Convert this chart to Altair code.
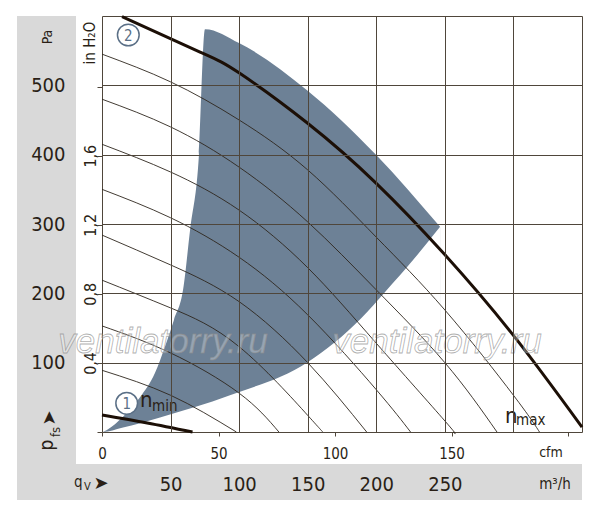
import altair as alt
import pandas as pd

# ---------------- data ----------------
Q_MAX = 350          # m3/h at right edge
PA_MAX = 600         # Pa at top edge
M3H_PER_CFM = 1.69901
PA_PER_INH2O = 249.089

# n_max curve (m3/h, Pa)
max_q = [14.6, 71.5, 99.9, 149.5, 199.8, 249.4, 299.7, 350]
max_pa = [599, 548, 518, 446, 359, 257, 140, 7]

# n_min curve
min_q = [0, 33, 66]
min_pa = [24.5, 13, 0]

# thin speed curves
a_q = [0, 50, 100, 150, 200, 250, 300, 319]
a_pa = [545, 505, 450, 378, 281, 176, 53, 0]
b_q = [0, 50, 100, 150, 200, 250, 288]
b_pa = [480, 440, 382, 303, 205, 100, 0]
c_q = [0, 50, 100, 150, 200, 250, 256]
c_pa = [415, 375, 320, 237, 128, 16, 0]
d_q = [0, 50, 100, 150, 200, 225]
d_pa = [350, 309, 252, 169, 61, 0]
e_q = [0, 50, 100, 150, 193]
e_pa = [284, 241, 188, 100, 0]
f_q = [0, 50, 100, 150, 161]
f_pa = [219, 179, 123, 24, 0]
g_q = [0, 50, 100, 129]
g_pa = [153, 114, 56, 0]
h_q = [0, 50, 98]
h_pa = [89, 53, 0]

# operating range (shaded): upper boundary and lower boundary
upper_q = [0.7, 3.6, 15.3, 27.7, 38.6, 45.9, 52.5, 59.1, 64.2, 70.7, 75.1,
           99.9, 149.5, 199.8, 246.5]
upper_pa = [0, 3, 22, 50, 85, 123, 162, 205, 291, 400, 581,
            561, 493, 400, 296]
lower_q = [0, 0.7, 14.6, 42.3, 93.3, 150.2, 189, 206.4, 226.8, 246.5]
lower_pa = [0, 0, 6, 21, 53, 101, 164, 202, 248, 296]

m3h_ticks = [50, 100, 150, 200, 250, 300]
pa_ticks = [100, 200, 300, 400, 500]
cfm_ticks = [0, 50, 100, 150, 200]
inh2o_ticks = [0, 0.4, 0.8, 1.2, 1.6, 2.0]

# ---------------- styles ----------------
FONT = "Liberation Sans Narrow, Arial Narrow, DejaVu Sans Condensed, sans-serif"
TXT = "#2a1f16"
GRID = "#4f463b"
THICK = "#1c0f06"
THIN = "#2e261d"
BLUE = "#6d8196"
GREY = "#d9d9d9"
CIRC = "#5a6f86"

thin_frames = []
for name, qs, ps in [("A", a_q, a_pa), ("B", b_q, b_pa), ("C", c_q, c_pa), ("D", d_q, d_pa),
                     ("E", e_q, e_pa), ("F", f_q, f_pa), ("G", g_q, g_pa), ("H", h_q, h_pa)]:
    thin_frames.append(pd.DataFrame({"q": qs, "pa": ps, "curve": name}))
thin_df = pd.concat(thin_frames, ignore_index=True)
thick_df = pd.concat([
    pd.DataFrame({"q": max_q, "pa": max_pa, "curve": "max"}),
    pd.DataFrame({"q": min_q, "pa": min_pa, "curve": "min"}),
], ignore_index=True)
upper_df = pd.DataFrame({"q": upper_q, "pa": upper_pa})
lower_df = pd.DataFrame({"q": lower_q, "pa": lower_pa})

x_axis = alt.Axis(values=m3h_ticks, grid=True, gridColor=GRID, gridWidth=1, gridOpacity=1,
                  ticks=False, domain=False, title=None, zindex=1,
                  labelExpr="datum.value > 250 ? '' : datum.label",
                  labelFont=FONT, labelFontSize=20, labelColor=TXT, labelPadding=52,
                  labelBaseline="middle", labelFlush=False, labelOverlap=False)
y_axis = alt.Axis(values=pa_ticks, grid=True, gridColor=GRID, gridWidth=1, gridOpacity=1,
                  ticks=False, domain=False, title=None, zindex=1,
                  labelFont=FONT, labelFontSize=20, labelColor=TXT, labelPadding=37,
                  labelAlign="right", labelBaseline="middle", labelFlush=False, labelOverlap=False)
X = alt.X("q:Q", scale=alt.Scale(domain=[0, Q_MAX], nice=False, zero=False), axis=x_axis)
Y = alt.Y("pa:Q", scale=alt.Scale(domain=[0, PA_MAX], nice=False, zero=False), axis=y_axis)

ONE = pd.DataFrame({"k": [0]})


def note(text, x, y, size, angle=0, align="center", baseline="middle", color=TXT,
         font=FONT, style="normal"):
    return alt.Chart(ONE).mark_text(text=text, fontSize=size, angle=angle, align=align,
                                    baseline=baseline, color=color, font=font,
                                    fontStyle=style).encode(x=alt.value(x), y=alt.value(y))


def panel(x1, x2, y1, y2):
    return alt.Chart(ONE).mark_rect(color=GREY).encode(
        x=alt.value(x1), x2=alt.value(x2), y=alt.value(y1), y2=alt.value(y2))


def ring(x, y):
    return alt.Chart(ONE).mark_point(
        shape="circle", size=470, filled=True, fill="white", stroke=CIRC,
        strokeWidth=1.5, opacity=1).encode(x=alt.value(x), y=alt.value(y))


def wm(x, y):
    return alt.Chart(ONE).mark_text(
        text="ventilatorry.ru", font="Liberation Sans", fontStyle="italic",
        fontSize=35, fill="white", fillOpacity=0.3, stroke="#8c8c8c",
        strokeWidth=0.8, strokeOpacity=0.7).encode(x=alt.value(x), y=alt.value(y))


blue = alt.Chart(upper_df).mark_area(color=BLUE, opacity=1, interpolate="monotone").encode(x=X, y=Y)
white = alt.Chart(lower_df).mark_area(color="white", opacity=1, interpolate="monotone").encode(x=X, y=Y)
thin = alt.Chart(thin_df).mark_line(color=THIN, strokeWidth=0.9, interpolate="natural").encode(
    x=X, y=Y, detail="curve:N")
thick = alt.Chart(thick_df).mark_line(color=THICK, strokeWidth=3, interpolate="natural").encode(
    x=X, y=Y, detail="curve:N")

main = alt.layer(
    panel(-85, -26, 0, 484),
    panel(-85, 480, 448, 484),
    blue, white, thin, thick,
    wm(61, 326), wm(335, 326),
    ring(24.7, 387.3), ring(26.3, 19),
    note("1", 24.7, 388, 15, color=CIRC),
    note("2", 26.3, 19.5, 15, color=CIRC),
    note("n", 38, 391, 22, align="left", baseline="alphabetic"),
    note("min", 50, 395, 15, align="left", baseline="alphabetic"),
    note("n", 403, 407, 22, align="left", baseline="alphabetic"),
    note("max", 414, 409, 15, align="left", baseline="alphabetic"),
    note("Pa", -54, 21, 14, angle=270),
    note("p", -49, 429, 19, angle=270, baseline="alphabetic"),
    note("fs", -42, 416, 13, angle=270, baseline="alphabetic"),
    note("➤", -52, 402, 18, angle=270, font="DejaVu Sans"),
    note("q", -28, 471, 15, align="left", baseline="alphabetic"),
    note("V", -18, 474, 11, align="left", baseline="alphabetic"),
    note("➤", -1, 468, 18, font="DejaVu Sans"),
    note("m³/h", 453, 468, 15),
    note("cfm", 449, 437, 14),
    note("in H₂O", -7, 27, 15, angle=270, baseline="alphabetic"),
)

cfm_layer = alt.Chart(pd.DataFrame({"cfm": cfm_ticks})).mark_rule(opacity=0).encode(
    x=alt.X("cfm:Q",
            scale=alt.Scale(domain=[0, Q_MAX / M3H_PER_CFM], nice=False, zero=True),
            axis=alt.Axis(orient="bottom", values=cfm_ticks, grid=False, domain=False,
                          ticks=True, tickSize=4, tickColor=GRID, tickWidth=1, title=None,
                          labelExpr="datum.value >= 200 ? '' : datum.label",
                          labelFont=FONT, labelFontSize=15, labelColor=TXT,
                          labelPadding=17, labelBaseline="middle", labelFlush=False,
                          labelOverlap=False, zindex=1))
)

inh_layer = alt.Chart(pd.DataFrame({"inh": inh2o_ticks})).mark_rule(opacity=0).encode(
    y=alt.Y("inh:Q",
            scale=alt.Scale(domain=[0, PA_MAX / PA_PER_INH2O], nice=False, zero=True),
            axis=alt.Axis(orient="left", values=inh2o_ticks, grid=False, domain=False,
                          ticks=True, tickSize=5, tickColor=GRID, tickWidth=1, title=None,
                          labelExpr="(datum.value < 0.2 || datum.value > 1.8) ? '' : replace(format(datum.value, '.1f'), '.', ',')",
                          labelAngle=270, labelAlign="center", labelBaseline="alphabetic",
                          labelFont=FONT, labelFontSize=16, labelColor=TXT,
                          labelPadding=2, labelFlush=False, labelOverlap=False, zindex=1))
)

chart = alt.layer(main, cfm_layer, inh_layer).resolve_scale(
    x="independent", y="independent"
).properties(
    width=480, height=416,
    padding={"left": 94, "top": 8, "right": 10, "bottom": 80},
    autosize=alt.AutoSizeParams(type="none"),
    background="white",
).configure_view(stroke=GRID, strokeWidth=1)

chart.save("out.html", embed_options={"renderer": "svg", "actions": False})
